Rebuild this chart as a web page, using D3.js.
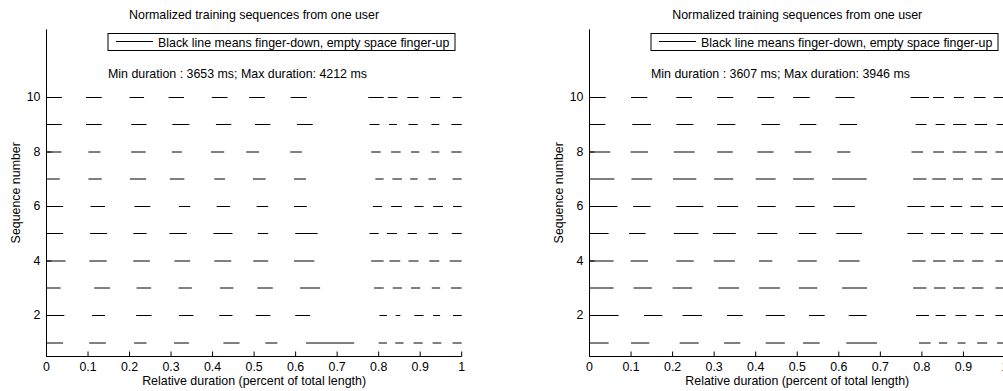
<!DOCTYPE html>
<html>
<head>
<meta charset="utf-8">
<script src="https://cdn.jsdelivr.net/npm/d3@7"></script>
<style>
  body { margin: 0; background: #fff; overflow: hidden; }
  svg { display: block; }
  text { font-family: "Liberation Sans", Arial, sans-serif; font-size: 12.4px; fill: #000; }
</style>
</head>
<body>
<svg id="chart" width="1003" height="391"></svg>
<script>
// finger-down intervals [start, end] (relative time), sequence 1 .. 10
var leftDown = [
  [[0,.040],[.103,.143],[.211,.241],[.307,.343],[.426,.465],[.527,.556],[.625,.741],[.800,.820],[.840,.860],[.884,.906],[.930,.951],[.978,1]],
  [[0,.043],[.110,.141],[.216,.253],[.319,.354],[.416,.448],[.504,.539],[.599,.635],[.802,.820],[.841,.852],[.886,.908],[.931,.948],[.979,1]],
  [[0,.034],[.115,.153],[.217,.252],[.318,.350],[.418,.450],[.508,.545],[.611,.659],[.789,.812],[.834,.856],[.878,.900],[.928,.948],[.974,1]],
  [[0,.046],[.103,.145],[.209,.249],[.308,.346],[.404,.445],[.498,.534],[.596,.645],[.782,.812],[.826,.852],[.872,.896],[.922,.946],[.971,1]],
  [[0,.040],[.105,.146],[.209,.241],[.296,.338],[.402,.448],[.509,.534],[.599,.653],[.778,.800],[.820,.844],[.870,.892],[.920,.943],[.976,1]],
  [[0,.040],[.106,.141],[.212,.250],[.319,.346],[.410,.442],[.506,.534],[.596,.627],[.786,.808],[.830,.856],[.886,.908],[.931,.955],[.979,1]],
  [[0,.032],[.101,.133],[.201,.240],[.297,.332],[.404,.430],[.497,.528],[.596,.625],[.792,.812],[.833,.856],[.876,.894],[.920,.938],[.978,1]],
  [[0,.036],[.101,.130],[.204,.239],[.302,.326],[.396,.428],[.481,.512],[.587,.615],[.782,.805],[.830,.853],[.878,.898],[.927,.946],[.975,1]],
  [[0,.037],[.095,.133],[.204,.241],[.303,.344],[.408,.445],[.502,.539],[.603,.641],[.778,.802],[.825,.844],[.872,.894],[.927,.946],[.975,1]],
  [[0,.037],[.095,.133],[.200,.235],[.294,.331],[.398,.436],[.488,.526],[.588,.627],[.775,.812],[.822,.845],[.869,.896],[.924,.948],[.978,1]]
];
var rightDown = [
  [[0,.046],[.100,.144],[.217,.263],[.324,.363],[.424,.470],[.514,.554],[.618,.692],[.793,.821],[.841,.861],[.886,.905],[.933,.957],[.981,1]],
  [[0,.070],[.131,.175],[.224,.271],[.331,.369],[.424,.470],[.528,.566],[.624,.667],[.786,.817],[.833,.857],[.881,.907],[.929,.949],[.977,1]],
  [[0,.058],[.106,.150],[.200,.247],[.310,.360],[.408,.458],[.504,.548],[.608,.668],[.779,.811],[.829,.857],[.875,.903],[.921,.948],[.977,1]],
  [[0,.058],[.099,.141],[.209,.251],[.299,.350],[.408,.440],[.501,.547],[.600,.650],[.777,.809],[.827,.857],[.875,.901],[.921,.948],[.977,1]],
  [[0,.046],[.095,.135],[.203,.262],[.297,.352],[.404,.452],[.504,.546],[.594,.656],[.765,.803],[.822,.855],[.870,.899],[.917,.948],[.965,1]],
  [[0,.067],[.105,.147],[.209,.274],[.307,.358],[.404,.448],[.496,.542],[.587,.639],[.765,.807],[.821,.853],[.869,.897],[.917,.948],[.967,1]],
  [[0,.060],[.101,.151],[.201,.257],[.300,.346],[.400,.448],[.490,.540],[.584,.667],[.779,.811],[.825,.858],[.875,.899],[.921,.945],[.967,1]],
  [[0,.050],[.099,.141],[.203,.253],[.307,.345],[.404,.443],[.494,.534],[.596,.628],[.775,.803],[.827,.853],[.874,.907],[.927,.957],[.977,1]],
  [[0,.038],[.103,.148],[.209,.250],[.307,.351],[.414,.458],[.506,.546],[.602,.644],[.785,.811],[.833,.855],[.875,.907],[.927,.957],[.980,1]],
  [[0,.039],[.100,.139],[.209,.247],[.307,.346],[.404,.444],[.490,.530],[.592,.638],[.773,.817],[.827,.853],[.877,.901],[.925,.953],[.973,1]]
];
var durations = [[3653, 4212], [3607, 3946]];   // min, max ms
var xTicks = [0, .1, .2, .3, .4, .5, .6, .7, .8, .9, 1];
var xTickLabels = ["0", "0.1", "0.2", "0.3", "0.4", "0.5", "0.6", "0.7", "0.8", "0.9", "1"];
var yTicks = [2, 4, 6, 8, 10];
var yDomain = [0.5, 12.5];

var titleText = "Normalized training sequences from one user";
var legendText = "Black line means finger-down, empty space finger-up";
var xLabel = "Relative duration (percent of total length)";
var yLabel = "Sequence number";

var svg = d3.select("#chart");

var y = d3.scaleLinear().domain(yDomain).range([356.69, 29.35]);
// snap to half pixels like the matlab export
function sy(v) { return Math.floor(y(v) * 2) / 2; }

function panel(rows, dur, left, right) {
  var x = d3.scaleLinear().domain([0, 1]).range([left, right]);
  var g = svg.append("g");
  var cx = (left + right) / 2;

  // sequences
  rows.forEach(function(segs, i) {
    g.append("g").selectAll("line")
      .data(segs)
      .enter().append("line")
      .attr("x1", function(d) { return x(d[0]); })
      .attr("x2", function(d) { return x(d[1]); })
      .attr("y1", sy(i + 1))
      .attr("y2", sy(i + 1))
      .attr("stroke", "#000")
      .attr("stroke-width", 1);
  });

  // axes (ticks inside, no box)
  var xAxis = d3.axisBottom(x).tickValues(xTicks)
    .tickFormat(function(d, i) { return xTickLabels[i]; })
    .tickSizeInner(-5).tickSizeOuter(0).tickPadding(6).offset(0);
  var gx = g.append("g").attr("transform", "translate(0," + sy(yDomain[0]) + ")").call(xAxis);

  var yAxis = d3.axisLeft(y).tickValues(yTicks)
    .tickSizeInner(-5).tickSizeOuter(0).tickPadding(6).offset(0);
  var gy = g.append("g").attr("transform", "translate(" + left + ",0)").call(yAxis);
  gy.selectAll(".tick").attr("transform", function(d) { return "translate(0," + sy(d) + ")"; });

  [gx, gy].forEach(function(a) {
    a.attr("font-family", null).attr("font-size", null);
    a.select(".domain").attr("stroke", "#000");
    a.selectAll(".tick line").attr("stroke", "#000");
    a.selectAll(".tick text").attr("fill", "#000");
  });

  // labels
  g.append("text").attr("x", cx).attr("y", 18.5).attr("text-anchor", "middle").text(titleText);
  g.append("text").attr("x", cx).attr("y", 385).attr("text-anchor", "middle").text(xLabel);
  g.append("text")
    .attr("transform", "translate(" + (left - 26.5) + "," + ((sy(yDomain[0]) + sy(yDomain[1])) / 2) + ") rotate(-90)")
    .attr("text-anchor", "middle").text(yLabel);

  // legend
  var lx = left + 61.5;
  var lg = g.append("g");
  lg.append("rect").attr("x", lx).attr("y", 33.5).attr("width", 347).attr("height", 17)
    .attr("fill", "#fff").attr("stroke", "#000");
  lg.append("line").attr("x1", lx + 8).attr("x2", lx + 45).attr("y1", 41.5).attr("y2", 41.5)
    .attr("stroke", "#000");
  lg.append("text").attr("x", lx + 50).attr("y", 46.5).text(legendText);

  g.append("text").attr("x", lx).attr("y", 77.5)
    .text("Min duration : " + dur[0] + " ms; Max duration: " + dur[1] + " ms");
}

panel(leftDown, durations[0], 46.5, 461.7);
panel(rightDown, durations[1], 589.5, 1005);
</script>
</body>
</html>
